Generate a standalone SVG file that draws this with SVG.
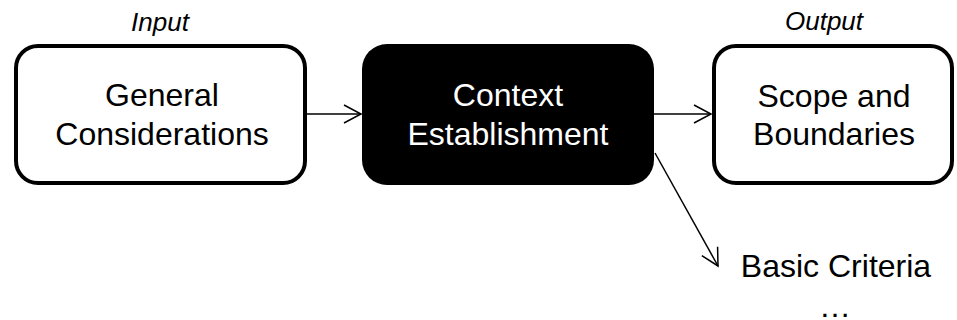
<svg xmlns="http://www.w3.org/2000/svg" width="957" height="320" viewBox="0 0 957 320">
  <style>
    .box { fill: #ffffff; stroke: #000000; stroke-width: 4; }
    .dark { fill: #000000; stroke: none; }
    .label { font-family: "Liberation Sans", Arial, sans-serif; font-size: 32px; text-anchor: middle; fill: #000000; }
    .label.inv { fill: #ffffff; }
    .tag { font-family: "Liberation Sans", Arial, sans-serif; font-size: 26px; font-style: italic; text-anchor: middle; fill: #000000; }
    .conn { fill: none; stroke: #000000; stroke-width: 1.5; }
  </style>
  <defs>
    <marker id="open-arrow" markerUnits="userSpaceOnUse" markerWidth="24" markerHeight="24" viewBox="-20 -12 24 24" refX="0" refY="0" orient="auto">
      <path d="M-17,-9 L0,0 L-17,9" fill="none" stroke="#000000" stroke-width="1.5"/>
    </marker>
  </defs>

  <rect width="957" height="320" fill="#ffffff"/>

  <text class="tag" x="160" y="31">Input</text>
  <text class="tag" x="824" y="30">Output</text>

  <g id="general-considerations">
    <rect class="box" x="16" y="46" width="289" height="137" rx="22" ry="22"/>
    <text class="label" x="162" y="106">General</text>
    <text class="label" x="162" y="145">Considerations</text>
  </g>

  <g id="context-establishment">
    <rect class="dark" x="362" y="44" width="292" height="141" rx="25" ry="25"/>
    <text class="label inv" x="508" y="106">Context</text>
    <text class="label inv" x="508" y="145">Establishment</text>
  </g>

  <g id="scope-boundaries">
    <rect class="box" x="714" y="46" width="238" height="137" rx="22" ry="22"/>
    <text class="label" x="834" y="107">Scope and</text>
    <text class="label" x="834" y="145">Boundaries</text>
  </g>

  <g id="basic-criteria">
    <text class="label" x="836" y="277">Basic Criteria</text>
    <text class="label" x="835" y="317">…</text>
  </g>

  <g id="connectors">
    <line class="conn" x1="307" y1="114" x2="361" y2="114" marker-end="url(#open-arrow)"/>
    <line class="conn" x1="654" y1="114" x2="711" y2="114" marker-end="url(#open-arrow)"/>
    <line class="conn" x1="655" y1="153" x2="718" y2="266" marker-end="url(#open-arrow)"/>
  </g>
</svg>
